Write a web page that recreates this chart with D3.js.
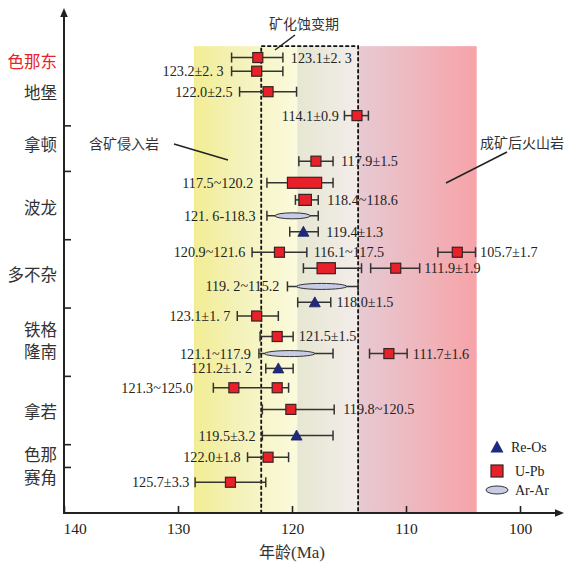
<!DOCTYPE html>
<html><head><meta charset="utf-8">
<script src="https://cdn.jsdelivr.net/npm/d3@7/dist/d3.min.js"></script>
<style>
body{margin:0;background:#fff;}
svg{display:block;}
</style></head>
<body>
<svg id="c" width="565" height="563"></svg>
<script>
// ---------- data ----------
const xTicks = [140, 130, 120, 110, 100];
const categories = ["色那东", "地堡", "拿顿", "波龙", "多不杂", "铁格", "隆南", "拿若", "色那", "赛角"];
const categoryRows = [4.4, 7.1, 11.7, 17.2, 23.1, 27.9, 29.9, 35.1, 38.9, 40.9];
const groupBreaks = [10, 14, 20, 26, 32, 38, 40];

// whiskers: row, older end, younger end
const whiskers = [
  {row: 4, lo: 125.3, hi: 120.8},
  {row: 5.2, lo: 125.3, hi: 120.8},
  {row: 7, lo: 124.6, hi: 119.6},
  {row: 9.1, lo: 115.4, hi: 113.3},
  {row: 13.1, lo: 119.4, hi: 116.4},
  {row: 15, lo: 122.2, hi: 116.4},
  {row: 16.5, lo: 119.7, hi: 117.7},
  {row: 17.9, lo: 122.2, hi: 117.7},
  {row: 19.3, lo: 120.2, hi: 117.7},
  {row: 21.1, lo: 123.5, hi: 118.7},
  {row: 21.1, lo: 107.2, hi: 103.9},
  {row: 22.5, lo: 119.0, hi: 113.9},
  {row: 22.5, lo: 113.1, hi: 108.8},
  {row: 24.1, lo: 120.4, hi: 114.2},
  {row: 25.5, lo: 119.5, hi: 116.6},
  {row: 26.7, lo: 124.8, hi: 121.2},
  {row: 28.5, lo: 122.8, hi: 119.9},
  {row: 30, lo: 122.9, hi: 116.4},
  {row: 30, lo: 113.2, hi: 109.9},
  {row: 31.3, lo: 122.3, hi: 119.9},
  {row: 33, lo: 126.9, hi: 120.3},
  {row: 34.9, lo: 122.6, hi: 116.3},
  {row: 37.2, lo: 122.6, hi: 116.4},
  {row: 39.1, lo: 123.9, hi: 120.3},
  {row: 41.3, lo: 128.5, hi: 122.3}
];

// point ages (U-Pb squares, Re-Os triangles)
const upbPoints = [
  {row: 4, age: 123.0}, {row: 5.2, age: 123.1}, {row: 7, age: 122.1}, {row: 9.1, age: 114.3},
  {row: 13.1, age: 117.9}, {row: 21.1, age: 121.1}, {row: 21.1, age: 105.5}, {row: 22.5, age: 110.9},
  {row: 26.7, age: 123.1}, {row: 28.5, age: 121.3}, {row: 30, age: 111.5}, {row: 33, age: 125.1},
  {row: 33, age: 121.3}, {row: 34.9, age: 120.1}, {row: 39.1, age: 122.1}, {row: 41.3, age: 125.4}
];
// U-Pb age ranges drawn as boxes
const upbRanges = [
  {row: 15, from: 120.4, to: 117.4},
  {row: 16.5, from: 119.4, to: 118.3},
  {row: 22.5, from: 117.8, to: 116.2}
];
const reosPoints = [
  {row: 19.3, age: 119.0}, {row: 25.5, age: 118.0}, {row: 31.3, age: 121.2}, {row: 37.2, age: 119.6}
];
// Ar-Ar ranges drawn as ellipses
const arRanges = [
  {row: 17.9, from: 121.5, to: 118.4},
  {row: 24.1, from: 119.6, to: 115.2},
  {row: 30, from: 122.4, to: 118.0}
];

// value labels: text, row, age where the text is anchored, side
const valueLabels = [
  {t: "123.1±2. 3", row: 4, at: 120.1, a: "start"},
  {t: "123.2±2. 3", row: 5.2, at: 126.0, a: "end"},
  {t: "122.0±2.5", row: 7, at: 125.2, a: "end"},
  {t: "114.1±0.9", row: 9.1, at: 115.9, a: "end"},
  {t: "117.9±1.5", row: 13.1, at: 115.7, a: "start"},
  {t: "117.5~120.2", row: 15, at: 123.4, a: "end"},
  {t: "118.4~118.6", row: 16.5, at: 116.9, a: "start"},
  {t: "121. 6-118.3", row: 17.9, at: 123.2, a: "end"},
  {t: "119.4±1.3", row: 19.3, at: 117.0, a: "start"},
  {t: "120.9~121.6", row: 21.1, at: 124.1, a: "end"},
  {t: "116.1~117.5", row: 21.1, at: 118.1, a: "start"},
  {t: "105.7±1.7", row: 21.1, at: 103.5, a: "start"},
  {t: "111.9±1.9", row: 22.5, at: 108.4, a: "start"},
  {t: "119. 2~115.2", row: 24.1, at: 121.1, a: "end"},
  {t: "118.0±1.5", row: 25.5, at: 116.1, a: "start"},
  {t: "123.1±1. 7", row: 26.7, at: 125.4, a: "end"},
  {t: "121.5±1.5", row: 28.5, at: 119.4, a: "start"},
  {t: "121.1~117.9", row: 30, at: 123.6, a: "end"},
  {t: "111.7±1.6", row: 30, at: 109.4, a: "start"},
  {t: "121.2±1. 2", row: 31.3, at: 123.5, a: "end"},
  {t: "121.3~125.0", row: 33, at: 128.7, a: "end"},
  {t: "119.8~120.5", row: 34.9, at: 115.5, a: "start"},
  {t: "119.5±3.2", row: 37.2, at: 123.2, a: "end"},
  {t: "122.0±1.8", row: 39.1, at: 124.5, a: "end"},
  {t: "125.7±3.3", row: 41.3, at: 129.0, a: "end"}
];

// background periods (ages)
const bandStart = 128.6, bandSplit1 = 119.5, bandSplit2 = 114.2, bandEnd = 103.8;
const mineralBox = {from: 122.7, to: 114.2};
const bandTopRow = 3;

// ---------- drawing ----------
const svg = d3.select("#c");
const serif = "'Liberation Serif','Times New Roman',serif";
const cjk = "'Noto Sans CJK SC','Noto Sans',sans-serif";

const x = d3.scaleLinear().domain([140, 96]).range([64, 565.6]);
const y = d3.scaleLinear().domain([0, 44]).range([12, 513]);
const x0 = x(140), yB = y(44);

// gradient
const defs = svg.append("defs");
const g = defs.append("linearGradient").attr("id", "band")
  .attr("gradientUnits", "userSpaceOnUse")
  .attr("x1", x(bandStart)).attr("x2", x(bandEnd)).attr("y1", 0).attr("y2", 0);
const W = x(bandEnd) - x(bandStart);
const off = v => (x(v) - x(bandStart)) / W;
[[0, "#f2ed94"], [off(124.5), "#f4f2bb"], [off(bandSplit1) - 0.002, "#fbfadd"],
 [off(bandSplit1), "#e6e7d2"], [off(bandSplit2) - 0.002, "#f3ecea"],
 [off(bandSplit2), "#e7cad3"], [1, "#f6a3a8"]].forEach(s =>
  g.append("stop").attr("offset", s[0]).attr("stop-color", s[1]));

svg.append("rect").attr("x", x(bandStart)).attr("y", y(bandTopRow))
  .attr("width", W).attr("height", yB - y(bandTopRow)).attr("fill", "url(#band)");

// dashed mineralisation box
svg.append("rect").attr("x", x(mineralBox.from)).attr("y", y(bandTopRow))
  .attr("width", x(mineralBox.to) - x(mineralBox.from)).attr("height", yB - y(bandTopRow))
  .attr("fill", "none").attr("stroke", "#111").attr("stroke-width", 1.8)
  .attr("stroke-dasharray", "4,2");

// whiskers
const wg = svg.append("g").attr("stroke", "#333").attr("stroke-width", 1.5).attr("fill", "none");
whiskers.forEach(d => {
  const yy = y(d.row);
  wg.append("line").attr("x1", x(d.lo)).attr("x2", x(d.hi)).attr("y1", yy).attr("y2", yy);
  [d.lo, d.hi].forEach(v => wg.append("line").attr("x1", x(v)).attr("x2", x(v))
    .attr("y1", yy - 5).attr("y2", yy + 5));
});

// Ar-Ar ellipses
svg.append("g").selectAll("ellipse").data(arRanges).join("ellipse")
  .attr("cx", d => (x(d.from) + x(d.to)) / 2).attr("cy", d => y(d.row))
  .attr("rx", d => (x(d.to) - x(d.from)) / 2).attr("ry", 3)
  .attr("fill", "#c9cce7").attr("stroke", "#333").attr("stroke-width", 1);

// U-Pb range boxes
svg.append("g").selectAll("rect").data(upbRanges).join("rect")
  .attr("x", d => x(d.from)).attr("y", d => y(d.row) - 5.5)
  .attr("width", d => x(d.to) - x(d.from)).attr("height", 11)
  .attr("fill", "#e8202a").attr("stroke", "#3a2222").attr("stroke-width", 1.2);

// U-Pb squares
svg.append("g").selectAll("rect").data(upbPoints).join("rect")
  .attr("x", d => x(d.age) - 5).attr("y", d => y(d.row) - 5)
  .attr("width", 10).attr("height", 10)
  .attr("fill", "#e8202a").attr("stroke", "#3a2222").attr("stroke-width", 1.2);

// Re-Os triangles
const tri = (cx, cy, w, h) => `M${cx},${cy - h / 2 - 1}L${cx + w / 2},${cy + h / 2}L${cx - w / 2},${cy + h / 2}Z`;
svg.append("g").selectAll("path").data(reosPoints).join("path")
  .attr("d", d => tri(x(d.age), y(d.row), 11, 9))
  .attr("fill", "#1e2a80").attr("stroke", "#1a1f5a").attr("stroke-width", 0.8);

// value labels
svg.append("g").selectAll("text").data(valueLabels).join("text")
  .attr("x", d => x(d.at)).attr("y", d => y(d.row)).attr("dy", "0.35em")
  .attr("text-anchor", d => d.a)
  .attr("font-family", serif).attr("font-size", 14.2).attr("fill", "#222")
  .text(d => d.t);

// category labels
svg.append("g").attr("font-family", cjk).attr("font-size", 16.5).attr("text-anchor", "end")
  .selectAll("text").data(categories).join("text")
  .attr("x", 57).attr("y", (d, i) => y(categoryRows[i])).attr("dy", "0.36em")
  .attr("fill", (d, i) => i === 0 ? "#e8222b" : "#333")
  .text(d => d);

// y axis with arrow
svg.append("line").attr("x1", x0).attr("x2", x0).attr("y1", yB).attr("y2", 14)
  .attr("stroke", "#222").attr("stroke-width", 2);
svg.append("path").attr("d", `M${x0},8L${x0 + 3.8},17L${x0 - 3.8},17Z`).attr("fill", "#222");
svg.append("g").selectAll("line").data(groupBreaks).join("line")
  .attr("x1", x0).attr("x2", x0 + 7).attr("y1", d => y(d)).attr("y2", d => y(d))
  .attr("stroke", "#222").attr("stroke-width", 1.6);

// x axis with arrow
const xa = svg.append("g").attr("transform", `translate(0,${yB})`)
  .call(d3.axisBottom(x).tickValues(xTicks).tickSizeInner(-7).tickSizeOuter(0).tickPadding(10));
xa.select(".domain").remove();
xa.selectAll(".tick line").attr("stroke", "#222").attr("stroke-width", 1.6);
xa.selectAll(".tick text").attr("font-family", serif).attr("font-size", 15.5).attr("fill", "#222");
xa.selectAll(".tick").filter(d => d === 140).select("text").attr("text-anchor", "start").attr("x", -1);
svg.append("line").attr("x1", x0 - 1).attr("x2", 558).attr("y1", yB).attr("y2", yB)
  .attr("stroke", "#222").attr("stroke-width", 2);
svg.append("path").attr("d", `M564,${yB}L555,${yB - 3.8}L555,${yB + 3.8}Z`).attr("fill", "#222");

// axis title
const tt = svg.append("text").attr("x", 292).attr("y", 558).attr("text-anchor", "middle")
  .attr("font-size", 16).attr("fill", "#333");
tt.append("tspan").attr("font-family", cjk).text("年龄");
tt.append("tspan").attr("font-family", serif).attr("font-size", 17).text("(Ma)");

// annotations
const ann = svg.append("g").attr("font-family", cjk).attr("font-size", 14).attr("fill", "#333");
ann.append("text").attr("x", 304).attr("y", 29).attr("text-anchor", "middle").text("矿化蚀变期");
ann.append("text").attr("x", 124).attr("y", 149).attr("text-anchor", "middle").text("含矿侵入岩");
ann.append("text").attr("x", 522).attr("y", 148).attr("text-anchor", "middle").text("成矿后火山岩");
const al = svg.append("g").attr("stroke", "#222").attr("stroke-width", 1.5);
[[295, 35, 275, 50], [174, 144, 228, 160], [507, 152, 446, 183]].forEach(l =>
  al.append("line").attr("x1", l[0]).attr("y1", l[1]).attr("x2", l[2]).attr("y2", l[3]));

// legend
const lg = svg.append("g").attr("font-family", serif).attr("font-size", 14).attr("fill", "#222");
lg.append("path").attr("d", tri(497, 447, 13, 11)).attr("fill", "#1e2a80");
lg.append("rect").attr("x", 491).attr("y", 465).attr("width", 12).attr("height", 12)
  .attr("fill", "#e8202a").attr("stroke", "#3a2222").attr("stroke-width", 1.2);
lg.append("ellipse").attr("cx", 497).attr("cy", 490).attr("rx", 11).attr("ry", 4)
  .attr("fill", "#c9cce7").attr("stroke", "#333").attr("stroke-width", 1);
lg.append("text").attr("x", 511).attr("y", 447).attr("dy", "0.35em").text("Re-Os");
lg.append("text").attr("x", 515).attr("y", 471).attr("dy", "0.35em").text("U-Pb");
lg.append("text").attr("x", 515).attr("y", 490).attr("dy", "0.35em").text("Ar-Ar");
</script>
</body></html>
